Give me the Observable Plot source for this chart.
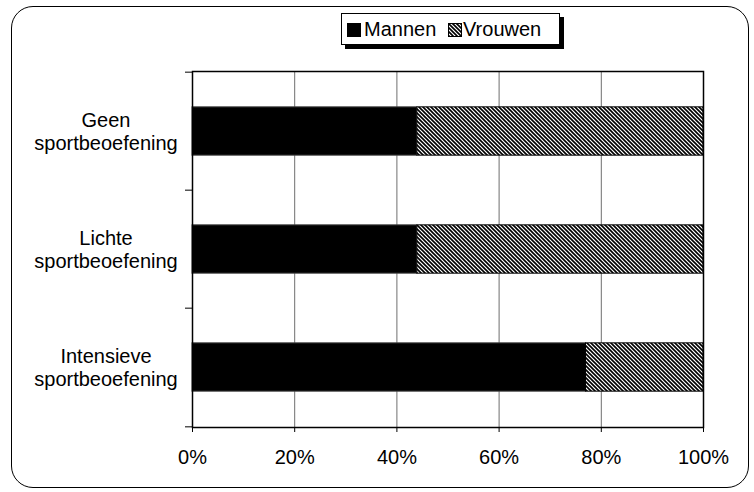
<!DOCTYPE html>
<html>
<head>
<meta charset="utf-8">
<script src="https://cdn.jsdelivr.net/npm/d3@7"></script>
<script src="https://cdn.jsdelivr.net/npm/@observablehq/plot@0.6"></script>
<style>
  body { margin: 0; background: #fff; font-family: "Liberation Sans", Arial, sans-serif; }
  #wrap { position: relative; width: 754px; height: 492px; }
  #border { position: absolute; left: 11px; top: 6px; width: 738px; height: 482px; border: 1.5px solid #000;
            border-radius: 22px; box-sizing: border-box; pointer-events: none; }
  #legend { position: absolute; left: 341px; top: 13px; width: 219px; height: 32px; box-sizing: border-box;
            border: 1px solid #000; background: #fff; box-shadow: 4px 4px 0 #000; font-size: 20px; }
  #legend .sw { position: absolute; top: 9px; width: 14px; height: 14px; }
  #legend .lb { position: absolute; top: 3px; line-height: 24px; color: #000; }
</style>
</head>
<body>
<div id="wrap">
  <div id="chart"></div>
  <div id="legend"></div>
  <div id="border"></div>
</div>
<script>
// ---- data ----
const categories = ["Geen sportbeoefening", "Lichte sportbeoefening", "Intensieve sportbeoefening"];
const seriesNames = ["Mannen", "Vrouwen"];
const mannen = [44, 44, 77];
const vrouwen = [56, 56, 23];
const xTicks = [0, 20, 40, 60, 80, 100];

const rows = categories.map((c, i) => ({cat: c, mannen: mannen[i], vrouwen: vrouwen[i]}));

const W = 754, H = 492, mT = 71, mB = 65, mL = 192, mR = 51;
const step = (H - mT - mB) / categories.length;
const barH = 49;
const inset = (step - barH) / 2;

const chart = Plot.plot({
  width: W, height: H,
  marginLeft: mL, marginRight: mR, marginTop: mT, marginBottom: mB,
  style: {fontFamily: "'Liberation Sans', Arial, sans-serif", fontSize: "20px", color: "#000", background: "transparent"},
  x: {domain: [0, 100], label: null},
  y: {domain: categories, padding: 0, label: null},
  marks: [
    Plot.ruleX(xTicks.slice(1, -1), {stroke: "#6e6e6e", strokeWidth: 1}),
    Plot.barX(rows, {y: "cat", x1: 0, x2: "mannen", fill: "black", stroke: "#444", strokeWidth: 1, insetTop: inset, insetBottom: inset}),
    Plot.barX(rows, {y: "cat", x1: "mannen", x2: d => d.mannen + d.vrouwen, fill: "url(#hatch)", stroke: "black", strokeWidth: 1, insetTop: inset, insetBottom: inset}),
    Plot.frame({stroke: "black", strokeWidth: 1.5}),
    Plot.axisX({ticks: xTicks, tickFormat: d => d + "%", tickSize: 5, tickPadding: 17, fontSize: 20, label: null}),
    Plot.axisY({tickSize: 0, tickPadding: 86.5, textAnchor: "middle", lineHeight: 1.15, fontSize: 20, label: null,
                tickFormat: d => d.replace(" ", "\n")}),
    Plot.ruleY(categories, {y: d => d, dy: -step / 2, x1: 0, x2: 0, insetLeft: -7, stroke: "black", strokeWidth: 1}),
    Plot.ruleY(categories.slice(-1), {y: d => d, dy: step / 2, x1: 0, x2: 0, insetLeft: -7, stroke: "black", strokeWidth: 1})
  ]
});

// hatch pattern definition
const ns = "http://www.w3.org/2000/svg";
const defs = document.createElementNS(ns, "defs");
defs.innerHTML = `<pattern id="hatch" patternUnits="userSpaceOnUse" width="4" height="4">
  <rect width="4" height="4" fill="#fff"/>
  <path d="M-1,-1 L5,5 M-1,3 L1,5 M3,-1 L5,1" stroke="#000" stroke-width="1.6"/>
</pattern>`;
chart.insertBefore(defs, chart.firstChild);
document.getElementById("chart").appendChild(chart);

// legend
const legend = document.getElementById("legend");
legend.innerHTML = `
  <div class="sw" style="left:5px;background:#000;"></div>
  <div class="lb" style="left:22px;">${seriesNames[0]}</div>
  <svg class="sw" style="left:106px;" width="14" height="14"><rect x="0.5" y="0.5" width="13" height="13" fill="url(#hatch)" stroke="#000"/></svg>
  <div class="lb" style="left:121px;">${seriesNames[1]}</div>`;
</script>
</body>
</html>
